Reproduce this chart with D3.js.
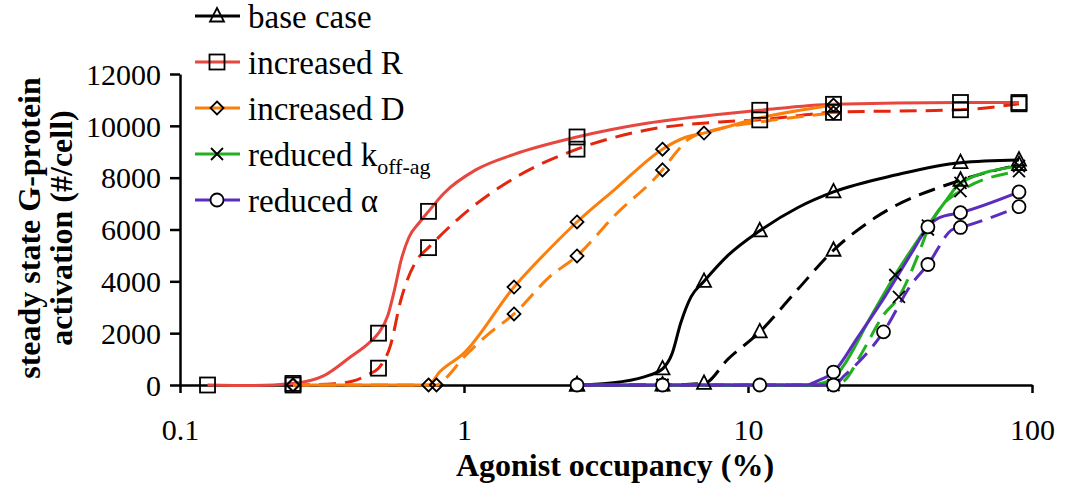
<!DOCTYPE html>
<html>
<head>
<meta charset="utf-8">
<script src="https://cdn.jsdelivr.net/npm/d3@7"></script>
<style>
  body { margin: 0; background: #fff; }
  text { font-family: "Liberation Serif", "Times New Roman", serif; fill: #000; }
</style>
</head>
<body>
<div id="container"></div>
<script>
// values: [agonist occupancy %, activated G-protein per cell]
var baseSolid = [[2.5,0],[3.6,130],[4.5,380],[5,620],[5.4,1200],[5.8,2400],[6.3,3400],[7,4000],[8.5,5000],[11,5950],[15,6850],[20,7450],[33,8100],[56,8580],[90,8680]];
var baseDashed = [[2.5,0],[5,0],[7,60],[8.5,1000],[11,2050],[15,3700],[20,5200],[28,6450],[56,7900],[90,8500]];
var redSolid = [[0.125,0],[0.18,-20],[0.25,60],[0.32,350],[0.4,1100],[0.46,1600],[0.5,2000],[0.54,2700],[0.57,3700],[0.6,4800],[0.64,5700],[0.7,6300],[0.75,6700],[0.85,7400],[1.1,8300],[1.5,8900],[2.5,9570],[4.4,10100],[8,10450],[11,10600],[20,10830],[56,10900],[90,10900]];
var redDashed = [[0.25,0],[0.35,50],[0.42,200],[0.455,390],[0.5,650],[0.55,1500],[0.6,3300],[0.68,4800],[0.75,5300],[0.97,6480],[1.57,8100],[2.5,9100],[4.4,9840],[8,10150],[11,10230],[20,10520],[56,10620],[90,10850]];
var orangeSolid = [[0.25,0],[0.75,0],[0.82,500],[1,1230],[1.5,3780],[2,5250],[2.5,6290],[3.4,7550],[5,9100],[6,9550],[7,9720],[11,10300],[20,10800]];
var orangeDashed = [[0.25,0],[0.8,0],[0.86,250],[1,1080],[1.23,2000],[1.5,2740],[2,4170],[2.5,4980],[3.4,6550],[5,8300],[5.6,8990],[6.2,9500],[8,9900],[11,10150],[20,10500]];
var greenSolid = [[2.5,0],[5,0],[16.5,0],[18,60],[20,250],[21.8,780],[27,2610],[33,4250],[43,6150],[49.7,7100],[56,7800],[90,8450]];
var greenDashed = [[5,0],[20,0],[22,200],[25,1180],[30,2700],[34,3400],[40,5100],[43,6000],[49,7000],[56,7480],[90,8250]];
var purpleSolid = [[2.5,0],[5,0],[11,0],[16,0],[17.5,150],[20,500],[24.3,1830],[30.3,3400],[37.7,5100],[43,6100],[47,6450],[56,6650],[90,7450]];
var purpleDashed = [[2.5,0],[5,0],[11,0],[20,0],[21.8,350],[30,2050],[37.7,3900],[43,4650],[52.5,6000],[56,6080],[90,6880]];

// x positions where a marker sits on each line
var baseMarks = [2.5, 5, 7, 11, 20, 56, 90];
var redSolidMarks = [0.125, 0.25, 0.5, 0.75, 2.5, 11, 20, 56, 90];
var redDashedMarks = [0.25, 0.5, 0.75, 2.5, 11, 20, 56, 90];
var orangeSolidMarks = [0.25, 0.75, 1.5, 2.5, 5, 7, 20];
var orangeDashedMarks = [0.25, 0.8, 1.5, 2.5, 5, 20];
var greenSolidMarks = [5, 20, 33, 43, 56, 90];
var greenDashedMarks = [5, 20, 34, 43, 56, 90];
var purpleSolidMarks = [2.5, 5, 11, 20, 43, 56, 90];
var purpleDashedMarks = [20, 30, 43, 56, 90];

var legendNames = ["base case", "increased R", "increased D", "reduced k", "reduced \u03b1"];
var xTicks = [0.1, 1, 10, 100];
var yTicks = [0, 2000, 4000, 6000, 8000, 10000, 12000];

var series = [
  { solid: baseSolid, dashed: baseDashed, sm: baseMarks, dm: baseMarks, color: "#000000", dcolor: "#000000", shape: "triangle" },
  { solid: redSolid, dashed: redDashed, sm: redSolidMarks, dm: redDashedMarks, color: "#e6473f", dcolor: "#e4260c", shape: "square" },
  { solid: orangeSolid, dashed: orangeDashed, sm: orangeSolidMarks, dm: orangeDashedMarks, color: "#fb7f0c", dcolor: "#fb7f0c", shape: "diamond" },
  { solid: greenSolid, dashed: greenDashed, sm: greenSolidMarks, dm: greenDashedMarks, color: "#23b020", dcolor: "#23b020", shape: "cross" },
  { solid: purpleSolid, dashed: purpleDashed, sm: purpleSolidMarks, dm: purpleDashedMarks, color: "#5a2dbf", dcolor: "#5a2dbf", shape: "circle" }
];

var W = 1069, H = 487;
var svg = d3.select("#container").append("svg").attr("width", W).attr("height", H);

var x = d3.scaleLog().domain([0.1, 100]).range([180, 1032]);
var y = d3.scaleLinear().domain([0, 12000]).range([385, 74]);

// axes
var xAxis = svg.append("g")
  .attr("transform", "translate(0,385)")
  .call(d3.axisBottom(x).tickValues(xTicks).tickFormat(d3.format("")).tickSize(8).tickSizeOuter(0));
var yAxis = svg.append("g")
  .attr("transform", "translate(180,0)")
  .call(d3.axisLeft(y).tickValues(yTicks).tickFormat(d3.format("d")).tickSize(10).tickSizeOuter(0));
[xAxis, yAxis].forEach(function (g) {
  g.select(".domain").attr("stroke", "#000").attr("stroke-width", 2.5);
  g.selectAll(".tick line").attr("stroke", "#000").attr("stroke-width", 2.5);
  g.selectAll(".tick text").attr("font-family", "Liberation Serif").attr("font-size", 30).attr("fill", "#000");
});
xAxis.selectAll(".tick text").attr("dy", null).attr("y", 55);
yAxis.selectAll(".tick text").attr("x", -19).attr("dy", "0.34em");

// axis titles
svg.append("text")
  .attr("x", 615).attr("y", 476)
  .attr("text-anchor", "middle")
  .attr("font-weight", "bold").attr("font-size", 32)
  .text("Agonist occupancy (%)");
svg.append("text")
  .attr("transform", "translate(40,228) rotate(-90)")
  .attr("text-anchor", "middle")
  .attr("font-weight", "bold").attr("font-size", 32)
  .text("steady state G-protein");
svg.append("text")
  .attr("transform", "translate(72,228) rotate(-90)")
  .attr("text-anchor", "middle")
  .attr("font-weight", "bold").attr("font-size", 32)
  .text("activation (#/cell)");

var line = d3.line()
  .x(function (d) { return x(d[0]); })
  .y(function (d) { return y(d[1]); })
  .curve(d3.curveMonotoneX);

function drawMarker(g, shape, cx, cy) {
  var m = g.append("g").attr("transform", "translate(" + cx + "," + cy + ")")
    .attr("fill", "none").attr("stroke", "#000").attr("stroke-width", 1.8);
  if (shape == "square") {
    m.append("rect").attr("x", -7.5).attr("y", -7.5).attr("width", 15).attr("height", 15);
  } else if (shape == "triangle") {
    m.append("path").attr("d", "M0,-8L7,5.5L-7,5.5Z");
  } else if (shape == "diamond") {
    m.append("path").attr("d", "M0,-6.5L6.5,0L0,6.5L-6.5,0Z");
  } else if (shape == "circle") {
    m.append("circle").attr("r", 6.5).attr("fill", "#fff");
  } else {
    m.append("path").attr("d", "M-6,-6L6,6M-6,6L6,-6");
  }
}

function markersOf(pts, xs) {
  return pts.filter(function (d) { return xs.indexOf(d[0]) >= 0; });
}

var plot = svg.append("g");
series.forEach(function (s) {
  plot.append("path").datum(s.dashed)
    .attr("d", line).attr("fill", "none")
    .attr("stroke", s.dcolor).attr("stroke-width", 3)
    .attr("stroke-dasharray", "17,9");
  plot.append("path").datum(s.solid)
    .attr("d", line).attr("fill", "none")
    .attr("stroke", s.color).attr("stroke-width", 3);
});
series.forEach(function (s) {
  markersOf(s.solid, s.sm).forEach(function (d) { drawMarker(plot, s.shape, x(d[0]), y(d[1])); });
  markersOf(s.dashed, s.dm).forEach(function (d) { drawMarker(plot, s.shape, x(d[0]), y(d[1])); });
});

// legend
var legend = svg.append("g");
series.forEach(function (s, i) {
  var ly = 16 + i * 46;
  legend.append("line").attr("x1", 195).attr("x2", 240).attr("y1", ly).attr("y2", ly)
    .attr("stroke", s.color).attr("stroke-width", 3);
  drawMarker(legend, s.shape, 217, ly);
  var t = legend.append("text").attr("x", 248).attr("y", ly + 12).attr("font-size", 33).text(legendNames[i]);
  if (i == 3) t.append("tspan").attr("font-size", 22).attr("dy", 8).text("off-ag");
});
</script>
</body>
</html>
